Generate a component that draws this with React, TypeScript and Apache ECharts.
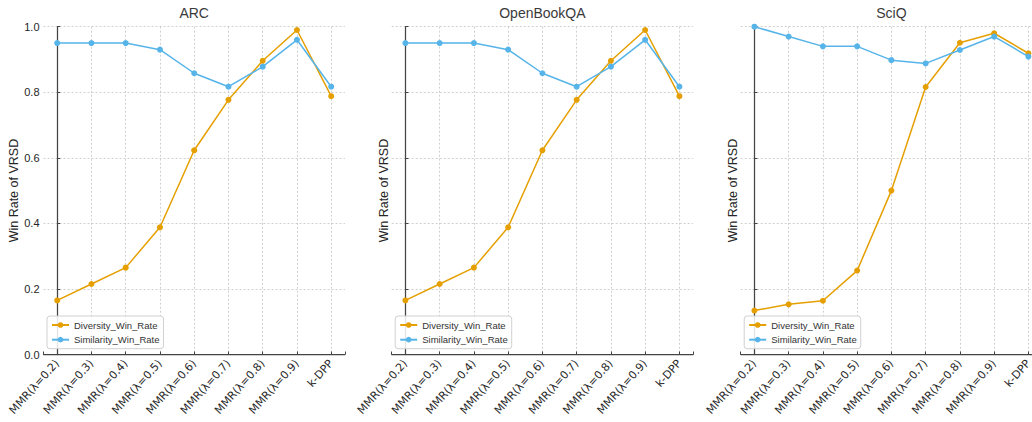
import React, { useEffect, useRef } from "react";
import * as echarts from "echarts";

const categories = [
  "MMR(λ=0.2)",
  "MMR(λ=0.3)",
  "MMR(λ=0.4)",
  "MMR(λ=0.5)",
  "MMR(λ=0.6)",
  "MMR(λ=0.7)",
  "MMR(λ=0.8)",
  "MMR(λ=0.9)",
  "k-DPP",
];

const panelTitles = ["ARC", "OpenBookQA", "SciQ"];
const seriesNames = ["Diversity_Win_Rate", "Similarity_Win_Rate"];

const arcDiversity = [0.165, 0.215, 0.265, 0.388, 0.623, 0.777, 0.896, 0.99, 0.788];
const arcSimilarity = [0.95, 0.95, 0.95, 0.93, 0.858, 0.817, 0.878, 0.96, 0.817];
const obqaDiversity = [0.165, 0.215, 0.265, 0.388, 0.623, 0.777, 0.896, 0.99, 0.788];
const obqaSimilarity = [0.95, 0.95, 0.95, 0.93, 0.858, 0.817, 0.878, 0.96, 0.817];
const sciqDiversity = [0.134, 0.153, 0.164, 0.256, 0.5, 0.816, 0.951, 0.98, 0.919];
const sciqSimilarity = [1.0, 0.97, 0.94, 0.94, 0.898, 0.888, 0.929, 0.97, 0.909];

const panelData = [
  [arcDiversity, arcSimilarity],
  [obqaDiversity, obqaSimilarity],
  [sciqDiversity, sciqSimilarity],
];

const colors = ["#E69F00", "#56B4E9"];

const W = 1032;
const H = 422;
const gridLefts = [43.5, 391.7, 740.7];
const gridWidth = 301.4;
const gridTop = 26.7;
const gridHeight = 327.8;

const dejavu = "'DejaVu Sans', sans-serif";
const libsans = "'Liberation Sans', Arial, sans-serif";

function buildOption() {
  const grids: any[] = [];
  const xAxes: any[] = [];
  const yAxes: any[] = [];
  const series: any[] = [];
  const titles: any[] = [];
  const legends: any[] = [];

  panelTitles.forEach((t, p) => {
    grids.push({
      left: gridLefts[p],
      top: gridTop,
      width: gridWidth,
      height: gridHeight,
      containLabel: false,
      outerBoundsMode: "none",
    });
    titles.push({
      text: t,
      left: gridLefts[p] + gridWidth / 2,
      top: 6,
      textAlign: "center",
      padding: 0,
      textStyle: {
        fontFamily: libsans,
        fontSize: 14,
        fontWeight: "normal",
        color: "#3a3a3a",
      },
    });
    xAxes.push({
      type: "value",
      gridIndex: p,
      min: -0.4,
      max: categories.length - 1 + 0.4,
      splitNumber: 9,
      minInterval: 1,
      maxInterval: 1,
      axisLine: { show: true, lineStyle: { color: "#444", width: 1.25 } },
      axisTick: { show: true, inside: true, length: 3, lineStyle: { color: "#444" } },
      axisLabel: {
        rotate: 48,
        margin: 7,
        fontFamily: dejavu,
        fontSize: 11,
        color: "#262626",
        showMinLabel: true,
        showMaxLabel: true,
        formatter: (v: number) => {
          const r = Math.round(v);
          return Math.abs(v - r) < 1e-6 && r >= 0 && r < categories.length ? categories[r] : "";
        },
      },
      splitLine: {
        show: true,
        showMinLine: false,
        showMaxLine: false,
        lineStyle: { color: "#c4c4c4", type: [2, 2], width: 0.8 },
      },
    });
    yAxes.push({
      type: "value",
      gridIndex: p,
      min: 0,
      max: 1,
      interval: 0.2,
      name: "Win Rate of VRSD",
      nameLocation: "middle",
      nameGap: p === 0 ? 18 : 1,
      nameTextStyle: { fontFamily: libsans, fontSize: 12.5, color: "#262626" },
      axisLine: { show: true, lineStyle: { color: "#444", width: 1.25 } },
      axisTick: { show: true, inside: true, length: 3, lineStyle: { color: "#444" } },
      axisLabel: {
        show: p === 0,
        margin: 4,
        fontFamily: libsans,
        fontSize: 11,
        color: "#262626",
        formatter: (v: number) => v.toFixed(1),
      },
      splitLine: {
        show: true,
        lineStyle: { color: "#c4c4c4", type: [2, 2], width: 0.8 },
      },
    });
    panelData[p].forEach((vals, s) => {
      series.push({
        name: seriesNames[s],
        type: "line",
        xAxisIndex: p,
        yAxisIndex: p,
        data: vals.map((v, i) => [i, v]),
        symbol: "circle",
        symbolSize: 6,
        showSymbol: true,
        lineStyle: { color: colors[s], width: 1.5 },
        itemStyle: { color: colors[s] },
        z: 3 + s,
      });
    });
    legends.push({
      left: gridLefts[p] + 3.5,
      top: 316,
      orient: "vertical",
      data: seriesNames,
      itemWidth: 17,
      itemHeight: 7,
      itemGap: 2.7,
      itemTextGap: 5,
      padding: [3, 4],
      backgroundColor: "rgba(255,255,255,0.85)",
      borderColor: "#d0d0d0",
      borderWidth: 1,
      borderRadius: 3,
      selectedMode: false,
      textStyle: { fontFamily: libsans, fontSize: 9.5, color: "#333", lineHeight: 12 },
    });
  });

  return {
    animation: false,
    backgroundColor: "#ffffff",
    color: colors,
    title: titles,
    legend: legends,
    grid: grids,
    xAxis: xAxes,
    yAxis: yAxes,
    series,
  };
}

export default function App() {
  const ref = useRef<HTMLDivElement>(null);
  useEffect(() => {
    if (!ref.current) return;
    const chart = echarts.init(ref.current, undefined, { renderer: "svg", width: W, height: H });
    chart.setOption(buildOption() as any);
    return () => {
      chart.dispose();
    };
  }, []);
  return (
    <div
      ref={ref}
      style={{ position: "absolute", left: 0, top: 0, width: W, height: H, background: "#fff" }}
    />
  );
}
